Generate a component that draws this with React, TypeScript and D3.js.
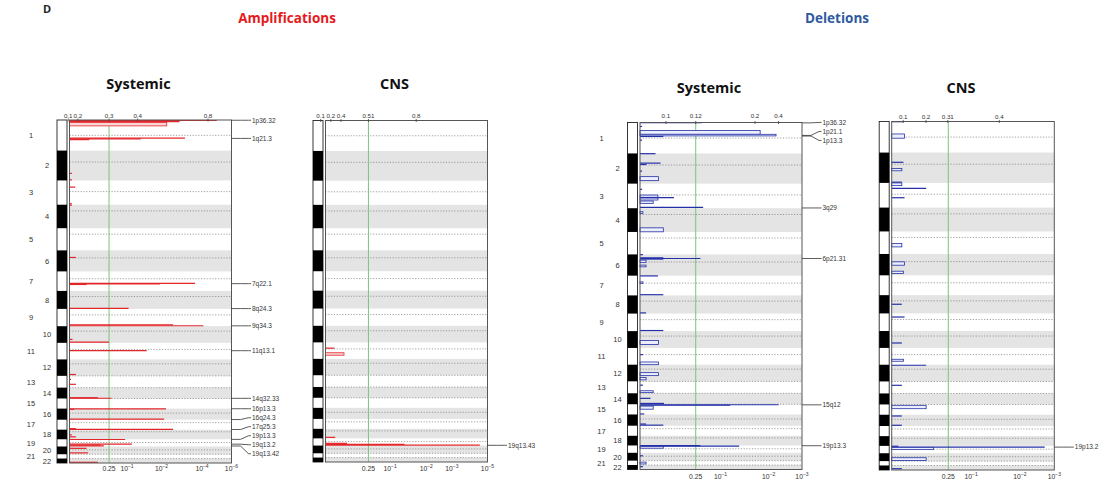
import React from "react";
import * as d3 from "d3";

// ---------------- genome layout (hg19, Mb) ----------------
const chromNames = ["1","2","3","4","5","6","7","8","9","10","11","12","13","14","15","16","17","18","19","20","21","22"];
const chromStartMb = [0,0,0,0,0,0,0,0,0,0,0,0,19,19,20,0,0,0,0,0,13,15];
const chromEndMb = [249.2,243.2,198.0,191.2,180.9,171.1,159.1,146.4,141.2,135.5,135.0,133.9,115.2,107.3,102.5,90.4,81.2,78.1,59.1,63.0,48.1,51.3];
const centromereMb = [125,93.3,91,50.4,48.4,61,59.9,45.6,49,40.2,53.7,35.8,17.9,17.6,19,36.6,24,17.2,26.5,27.5,13.2,14.7];

// ---------------- data: [chromosome, startMb, endMb, q-value] ----------------
type Seg = [number, number, number, number];

const ampSystemicSegs: Seg[] = [
  [1, 0, 8, 1e-5], [1, 8, 20, 1.3e-3], [1, 20, 48, 5.5e-3],
  [1, 143, 151, 7e-4], [1, 151, 157, 0.04], [1, 157, 163, 0.5],
  [2, 184, 187, 0.92], [2, 236, 240, 0.92],
  [3, 52, 57, 0.82], [3, 188, 192, 0.92],
  [4, 2, 5, 0.92],
  [6, 55, 60, 0.8],
  [7, 95, 99, 2.2e-4], [7, 99, 103, 0.011], [7, 103, 110, 0.55],
  [8, 138, 146, 0.09],
  [9, 128, 134, 2.7e-3], [9, 134, 141, 8e-5],
  [10, 105, 110, 0.9], [10, 126, 134, 0.25],
  [11, 60, 68, 0.027],
  [12, 118, 128, 0.8],
  [13, 45, 49, 0.95], [13, 84, 92, 0.8],
  [14, 98, 104, 0.37], [14, 104, 107, 0.22],
  [16, 0, 3, 6e-3], [16, 3, 8, 0.85], [16, 82, 90, 7.4e-3],
  [17, 70, 76, 0.8], [17, 76, 81, 2.7e-3],
  [18, 40, 45, 0.92], [18, 55, 62, 0.8],
  [19, 0, 4, 0.11], [19, 36, 43, 0.072], [19, 43, 52, 0.34], [19, 52, 57, 0.3],
  [20, 10, 20, 0.55], [20, 48, 56, 0.52],
  [22, 40, 51, 0.37],
];

const ampCnsSegs: Seg[] = [
  [11, 45, 50, 0.75], [11, 85, 105, 0.55],
  [18, 66, 74, 0.73],
  [19, 36, 46, 0.5], [19, 46, 51, 0.04], [19, 51, 59, 2.7e-5],
];

const delSystemicSegs: Seg[] = [
  [1, 0, 3, 0.2], [1, 30, 34, 0.95], [1, 64, 95, 0.015], [1, 95, 108, 0.006], [1, 108, 117, 0.56], [1, 140, 144, 0.95],
  [2, 0, 4, 0.68], [2, 72, 84, 0.6], [2, 84, 94, 0.85], [2, 140, 144, 0.95], [2, 187, 219, 0.63],
  [3, 44, 48, 0.95], [3, 92, 110, 0.64], [3, 110, 116, 0.43], [3, 116, 132, 0.64], [3, 140, 159, 0.72], [3, 186, 198, 0.19],
  [4, 28, 42, 0.93], [4, 158, 190, 0.56],
  [6, 0, 4, 0.93], [6, 24, 31, 0.56], [6, 31, 35, 0.21], [6, 35, 40, 0.56], [6, 46, 64, 0.86], [6, 86, 100, 0.86],
  [7, 0, 4, 0.64], [7, 50, 63, 0.93], [7, 148, 159, 0.56],
  [8, 136, 146, 0.86],
  [9, 132, 141, 0.56],
  [10, 76, 108, 0.63],
  [11, 52, 56, 0.93], [11, 113, 135, 0.63],
  [12, 64, 88, 0.63], [12, 103, 122, 0.86],
  [13, 45, 55, 0.93], [13, 95, 110, 0.72],
  [14, 55, 65, 0.77], [14, 95, 107, 0.55],
  [15, 22, 26, 0.005], [15, 26, 30, 0.063], [15, 35, 60, 0.72], [15, 95, 102, 0.9],
  [16, 72, 82, 0.86], [16, 82, 90, 0.56],
  [19, 0, 3, 0.21], [19, 3, 8, 0.041], [19, 8, 22, 0.56],
  [20, 20, 28, 0.93],
  [21, 25, 40, 0.86],
  [22, 25, 32, 0.93],
];

const delCnsSegs: Seg[] = [
  [1, 0, 3, 0.75], [1, 100, 134, 0.73],
  [2, 76, 80, 0.75], [2, 127, 146, 0.78], [2, 232, 243, 0.78],
  [3, 0, 22, 0.78], [3, 42, 46, 0.43], [3, 117, 121, 0.73],
  [5, 96, 124, 0.78],
  [6, 63, 90, 0.73], [6, 138, 156, 0.75],
  [8, 71, 75, 0.78],
  [9, 27, 31, 0.73],
  [10, 94, 98, 0.78],
  [11, 91, 107, 0.75],
  [12, 2, 6, 0.43],
  [13, 48, 52, 0.78],
  [15, 27, 54, 0.43],
  [16, 8, 12, 0.78], [16, 79, 90, 0.78],
  [19, 1, 5, 0.85], [19, 9, 12, 0.0019], [19, 12, 30, 0.36],
  [20, 36, 58, 0.43],
  [22, 39, 43, 0.78],
];

// peak labels: [cytoband, chromosome, Mb]
type Peak = [string, number, number];
const ampSystemicPeaks: Peak[] = [
  ["1p36.32", 1, 2], ["1q21.3", 1, 150], ["7q22.1", 7, 100], ["8q24.3", 8, 144], ["9q34.3", 9, 138],
  ["11q13.1", 11, 64], ["14q32.33", 14, 106], ["16p13.3", 16, 1], ["16q24.3", 16, 89], ["17q25.3", 17, 80],
  ["19p13.3", 19, 1], ["19q13.2", 19, 40], ["19q13.42", 19, 55],
];
const ampCnsPeaks: Peak[] = [["19q13.43", 19, 57]];
const delSystemicPeaks: Peak[] = [
  ["1p36.32", 1, 3], ["1p21.1", 1, 104], ["1p13.3", 1, 109], ["3q29", 3, 196],
  ["6p21.31", 6, 33], ["15q12", 15, 25], ["19p13.3", 19, 2],
];
const delCnsPeaks: Peak[] = [["19p13.2", 19, 10]];

// axis tick labels
const ampSystemicQTicks = [0.25, 1e-1, 1e-2, 1e-4, 1e-6];
const ampCnsQTicks = [0.25, 1e-1, 1e-2, 1e-3, 1e-5];
const delSystemicQTicks = [0.25, 1e-1, 1e-2, 1e-3];
const delCnsQTicks = [0.25, 1e-1, 1e-2, 1e-3];
const ampSystemicGTicks = [0.1, 0.2, 0.3, 0.4, 0.8];
const ampCnsGTicks = [0.1, 0.2, 0.4, 0.51, 0.8];
const delSystemicGTicks = [0.1, 0.12, 0.2, 0.4];
const delCnsGTicks = [0.1, 0.2, 0.31, 0.4];

// GISTIC axis calibration: stop values -> fraction of panel width
const ampSystemicQCal = { q: [1, 0.25, 1e-1, 1e-2, 1e-4, 1e-6], f: [0, 0.244, 0.355, 0.568, 0.818, 1] };
const ampCnsQCal = { q: [1, 0.25, 1e-1, 1e-2, 1e-3, 1e-5], f: [0, 0.265, 0.399, 0.622, 0.78, 1] };
const delSystemicQCal = { q: [1, 0.25, 1e-1, 1e-2, 1e-3], f: [0, 0.344, 0.497, 0.794, 1] };
const delCnsQCal = { q: [1, 0.25, 1e-1, 1e-2, 1e-3], f: [0, 0.348, 0.488, 0.789, 1] };
const ampSystemicGCal = { g: [0.1, 0.2, 0.3, 0.4, 0.8], f: [-0.008, 0.052, 0.244, 0.421, 0.855] };
const ampCnsGCal = { g: [0.1, 0.2, 0.4, 0.51, 0.8], f: [-0.03, 0.033, 0.096, 0.265, 0.56] };
const delSystemicGCal = { g: [0.1, 0.12, 0.2, 0.4], f: [0.16, 0.344, 0.71, 0.855] };
const delCnsGCal = { g: [0.1, 0.2, 0.31, 0.4], f: [0.071, 0.211, 0.345, 0.662] };

// ---------------- helpers ----------------
const nChrom = chromNames.length;
const chromLen = chromNames.map((_, i) => chromEndMb[i] - chromStartMb[i]);
const cumStart: number[] = [];
{
  let acc = 0;
  for (let i = 0; i < nChrom; i++) { cumStart.push(acc); acc += chromLen[i]; }
}
const genomeLen = d3.sum(chromLen);
const gpos = (c: number, mb: number) => {
  const i = c - 1;
  return cumStart[i] + Math.max(0, Math.min(mb, chromEndMb[i]) - chromStartMb[i]);
};

function placeLabels(targets: number[], gap: number): number[] {
  let clusters = targets.map((t) => ({ ts: [t] }));
  const mean = (c: { ts: number[] }) => d3.mean(c.ts) as number;
  let merged = true;
  while (merged) {
    merged = false;
    for (let i = 0; i < clusters.length - 1; i++) {
      const a = clusters[i], b = clusters[i + 1];
      const aEnd = mean(a) + ((a.ts.length - 1) * gap) / 2;
      const bStart = mean(b) - ((b.ts.length - 1) * gap) / 2;
      if (bStart - aEnd < gap) {
        clusters.splice(i, 2, { ts: a.ts.concat(b.ts) });
        merged = true;
        break;
      }
    }
  }
  const out: number[] = [];
  clusters.forEach((c) => {
    const m = mean(c);
    c.ts.forEach((_, k) => out.push(m - ((c.ts.length - 1) * gap) / 2 + k * gap));
  });
  return out;
}

const FONT = "'Liberation Sans', Arial, sans-serif";
const TITLE_FONT = "'Open Sans', 'Liberation Sans', sans-serif";

type PanelCfg = {
  x0: number; x1: number; y0: number; y1: number;
  title: string; titleY: number; showNumbers: boolean; bottomY: number; topY: number;
  segs: Seg[]; peaks: Peak[];
  qTicks: number[]; gTicks: number[];
  qCal: { q: number[]; f: number[] }; gCal: { g: number[]; f: number[] };
  stroke: string; fill: string;
};

function Panel({ cfg }: { cfg: PanelCfg }) {
  const { x0, x1, y0, y1 } = cfg;
  const w = x1 - x0;
  const yS = d3.scaleLinear().domain([0, genomeLen]).range([y0, y1]);
  const xQ = d3.scaleLinear().domain(cfg.qCal.q.map((q) => -Math.log10(q))).range(cfg.qCal.f.map((f) => x0 + f * w));
  const xG = d3.scaleLinear().domain(cfg.gCal.g).range(cfg.gCal.f.map((f) => x0 + f * w));
  const xq = (q: number) => xQ(-Math.log10(q));
  const ideoX = x0 - 12.5;

  const peakYs = cfg.peaks.map((p) => yS(gpos(p[1], p[2])));
  const order = d3.range(cfg.peaks.length).sort((a, b) => peakYs[a] - peakYs[b]);
  const placed = placeLabels(order.map((i) => peakYs[i]), 9);
  const labelY: number[] = [];
  order.forEach((i, k) => (labelY[i] = placed[k]));

  const greenX = xq(0.25);

  return (
    <g>
      <text x={(x0 + x1) / 2 - 12} y={cfg.titleY} textAnchor="middle" fontFamily={TITLE_FONT} fontWeight={700} fontSize={14.5} fill="#111">
        {cfg.title}
      </text>
      {/* grey bands */}
      {chromNames.map((_, i) =>
        i % 2 === 1 ? (
          <rect key={"b" + i} x={x0} y={yS(cumStart[i])} width={w} height={yS(cumStart[i] + chromLen[i]) - yS(cumStart[i])} fill="#e4e4e4" />
        ) : null
      )}
      {/* centromere dotted lines */}
      {chromNames.map((_, i) => {
        const y = yS(gpos(i + 1, Math.max(centromereMb[i], chromStartMb[i] + 0.3)));
        return <line key={"c" + i} x1={x0} x2={x1} y1={y} y2={y} stroke="#777" strokeWidth={0.7} strokeDasharray="1.2,1.6" />;
      })}
      {/* q-value threshold */}
      <line x1={greenX} x2={greenX} y1={y0} y2={y1} stroke="#7cc47c" strokeWidth={1} />
      {/* segments */}
      {cfg.segs.map(([c, s, e, q], i) => {
        const ya = yS(gpos(c, s));
        const yb = yS(gpos(c, e));
        const xr = xq(q);
        const h = yb - ya;
        if (h < 1.6) {
          const ym = (ya + yb) / 2;
          return <line key={"s" + i} x1={x0} x2={xr} y1={ym} y2={ym} stroke={cfg.stroke} strokeWidth={1.2} />;
        }
        return <rect key={"s" + i} x={x0} y={ya} width={xr - x0} height={h} fill={cfg.fill} stroke={cfg.stroke} strokeWidth={0.8} />;
      })}
      {/* frame */}
      <rect x={x0} y={y0} width={w} height={y1 - y0} fill="none" stroke="#555" strokeWidth={1} />
      {/* ideogram */}
      <rect x={ideoX} y={y0} width={10} height={y1 - y0} fill="#fff" stroke="#222" strokeWidth={0.9} />
      {chromNames.map((_, i) =>
        i % 2 === 1 ? (
          <rect key={"k" + i} x={ideoX} y={yS(cumStart[i])} width={10} height={yS(cumStart[i] + chromLen[i]) - yS(cumStart[i])} fill="#000" />
        ) : null
      )}
      {/* chromosome numbers */}
      {cfg.showNumbers &&
        chromNames.map((n, i) => (
          <text key={"n" + i} x={i % 2 === 0 ? x0 - 38.5 : x0 - 22.5} y={yS(cumStart[i] + chromLen[i] / 2) + 2.8} textAnchor="middle" fontFamily={FONT} fontSize={7.5} fill="#333">
            {n}
          </text>
        ))}
      {/* top G-score axis */}
      {cfg.gTicks.map((g, i) => (
        <g key={"g" + i}>
          <line x1={xG(g)} x2={xG(g)} y1={y0 - 1.5} y2={y0 + 1.5} stroke="#444" strokeWidth={0.8} />
          <text x={xG(g)} y={cfg.topY} textAnchor="middle" fontFamily={FONT} fontSize={6.2} fill="#333">
            {String(g)}
          </text>
        </g>
      ))}
      {/* bottom q-value axis */}
      {cfg.qTicks.map((q, i) => {
        const exp = Math.round(Math.log10(q));
        return (
          <text key={"q" + i} x={xq(q)} y={cfg.bottomY} textAnchor="middle" fontFamily={FONT} fontSize={6.8} fill="#333">
            {q === 0.25 ? (
              "0.25"
            ) : (
              <>
                10
                <tspan dy={-3} fontSize={5}>{String(exp).replace("-", "\u2212")}</tspan>
              </>
            )}
          </text>
        );
      })}
      {/* peak labels */}
      {cfg.peaks.map((p, i) => {
        const gy = peakYs[i];
        const ly = labelY[i];
        return (
          <g key={"p" + i}>
            <polyline points={`${x1},${gy} ${x1 + 9},${gy} ${x1 + 17},${ly} ${x1 + 19.5},${ly}`} fill="none" stroke="#333" strokeWidth={0.8} />
            <text x={x1 + 20.5} y={ly + 2.3} fontFamily={FONT} fontSize={6.5} fill="#333">
              {p[0]}
            </text>
          </g>
        );
      })}
    </g>
  );
}

const AMP_STROKE = "#e3262a";
const AMP_FILL = "#fbd6d6";
const DEL_STROKE = "#2430a8";
const DEL_FILL = "#eceefb";

const panels: PanelCfg[] = [
  {
    x0: 69.5, x1: 231.5, y0: 120, y1: 463, title: "Systemic", titleY: 89, showNumbers: true, bottomY: 471, topY: 117.5,
    segs: ampSystemicSegs, peaks: ampSystemicPeaks, qTicks: ampSystemicQTicks, gTicks: ampSystemicGTicks,
    qCal: ampSystemicQCal, gCal: ampSystemicGCal, stroke: AMP_STROKE, fill: AMP_FILL,
  },
  {
    x0: 325.5, x1: 487.5, y0: 120.5, y1: 462, title: "CNS", titleY: 89, showNumbers: false, bottomY: 471, topY: 117.5,
    segs: ampCnsSegs, peaks: ampCnsPeaks, qTicks: ampCnsQTicks, gTicks: ampCnsGTicks,
    qCal: ampCnsQCal, gCal: ampCnsGCal, stroke: AMP_STROKE, fill: AMP_FILL,
  },
  {
    x0: 640, x1: 802, y0: 122.5, y1: 469.5, title: "Systemic", titleY: 93, showNumbers: true, bottomY: 479, topY: 117.5,
    segs: delSystemicSegs, peaks: delSystemicPeaks, qTicks: delSystemicQTicks, gTicks: delSystemicGTicks,
    qCal: delSystemicQCal, gCal: delSystemicGCal, stroke: DEL_STROKE, fill: DEL_FILL,
  },
  {
    x0: 891.7, x1: 1054.3, y0: 121.5, y1: 470, title: "CNS", titleY: 93, showNumbers: false, bottomY: 479, topY: 118.5,
    segs: delCnsSegs, peaks: delCnsPeaks, qTicks: delCnsQTicks, gTicks: delCnsGTicks,
    qCal: delCnsQCal, gCal: delCnsGCal, stroke: DEL_STROKE, fill: DEL_FILL,
  },
];

export default function App() {
  return (
    <svg width={1109} height={482} style={{ position: "absolute", left: 0, top: 0, background: "#fff" }}>
      <rect x={0} y={0} width={1109} height={482} fill="#fff" />
      <text x={43} y={13} fontFamily={TITLE_FONT} fontWeight={700} fontSize={11} fill="#222">D</text>
      <text x={287} y={23} textAnchor="middle" fontFamily={TITLE_FONT} fontWeight={700} fontSize={13.5} fill="#e41a1c">Amplifications</text>
      <text x={837} y={23} textAnchor="middle" fontFamily={TITLE_FONT} fontWeight={700} fontSize={13.5} fill="#2e5aa0">Deletions</text>
      {panels.map((p, i) => (
        <Panel key={i} cfg={p} />
      ))}
    </svg>
  );
}
